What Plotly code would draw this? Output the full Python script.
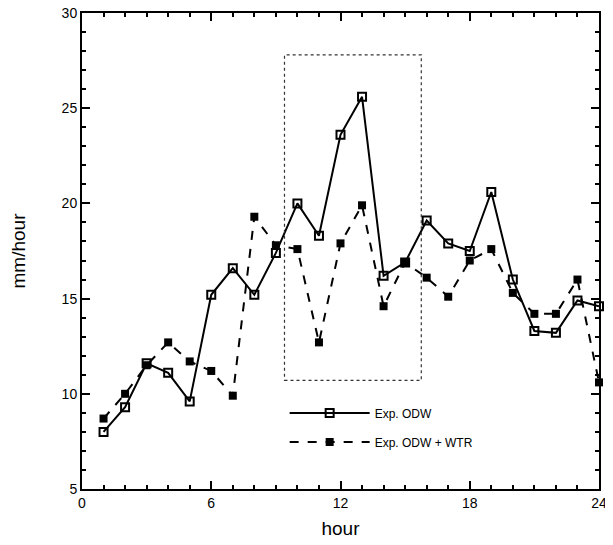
import plotly.graph_objects as go

hours = list(range(1, 25))
odw = [8.0, 9.3, 11.6, 11.1, 9.6, 15.2, 16.6, 15.2, 17.4, 20.0, 18.3, 23.6,
       25.6, 16.2, 16.9, 19.1, 17.9, 17.5, 20.6, 16.0, 13.3, 13.2, 14.9, 14.6]
odw_wtr = [8.7, 10.0, 11.5, 12.7, 11.7, 11.2, 9.9, 19.3, 17.8, 17.6, 12.7, 17.9,
           19.9, 14.6, 16.9, 16.1, 15.1, 17.0, 17.6, 15.3, 14.2, 14.2, 16.0, 10.6]
x_ticks = [0, 6, 12, 18, 24]
y_ticks = [5, 10, 15, 20, 25, 30]
box_hours = [9.4, 15.75]
box_vals = [10.7, 27.8]

fig = go.Figure()
fig.add_trace(go.Scatter(
    x=hours, y=odw, mode="lines+markers", name="Exp. ODW", legendgroup="a",
    line=dict(color="black", width=2), cliponaxis=False,
    marker=dict(symbol="square-open", size=8, color="black", line=dict(width=2)),
))
fig.add_trace(go.Scatter(
    x=hours, y=odw_wtr, mode="lines+markers", name="Exp. ODW + WTR", legendgroup="b",
    line=dict(color="black", width=2, dash="dash"), cliponaxis=False,
    marker=dict(symbol="square", size=8, color="black"),
))

fig.add_shape(type="rect", xref="x", yref="y",
              x0=box_hours[0], x1=box_hours[1], y0=box_vals[0], y1=box_vals[1],
              line=dict(color="#333", width=1.2, dash="dot"))

font = "Liberation Sans, Arial, sans-serif"
common = dict(ticks="inside", ticklen=8, tickwidth=1.5, tickcolor="black",
              showgrid=False, zeroline=False, showline=True, linecolor="black",
              linewidth=2, automargin=False, ticklabeloverflow="allow")
minor = dict(ticks="inside", dtick=1, ticklen=4, tickcolor="black", showgrid=False)

fig.update_layout(
    width=605, height=537,
    margin=dict(l=74, r=14, t=5, b=56),
    paper_bgcolor="white", plot_bgcolor="white",
    font=dict(family=font, color="black"),
    showlegend=True,
    legend=dict(x=0.392, y=0.19, xanchor="left", yanchor="top",
                bgcolor="rgba(0,0,0,0)", font=dict(size=12, family=font),
                itemwidth=80, tracegroupgap=10),
    xaxis=dict(range=[0, 24], tickvals=x_ticks, tickfont=dict(size=14, family=font),
               minor=minor,
               title=dict(text="hour", font=dict(size=19, family=font), standoff=12),
               **common),
    yaxis=dict(range=[5, 30], tickvals=y_ticks, tickfont=dict(size=14, family=font),
               minor=minor,
               title=dict(text="mm/hour", font=dict(size=19, family=font), standoff=33),
               **common),
    xaxis2=dict(range=[0, 24], tickvals=x_ticks, overlaying="x", side="top",
                showticklabels=False, minor=minor, **common),
    yaxis2=dict(range=[5, 30], tickvals=y_ticks, overlaying="y", side="right",
                showticklabels=False, minor=minor, **common),
)
# invisible helper trace to make the mirrored top/right axes render
fig.add_trace(go.Scatter(x=[None], y=[None], xaxis="x2", yaxis="y2",
                         showlegend=False, hoverinfo="skip"))

fig.write_html("out.html")
